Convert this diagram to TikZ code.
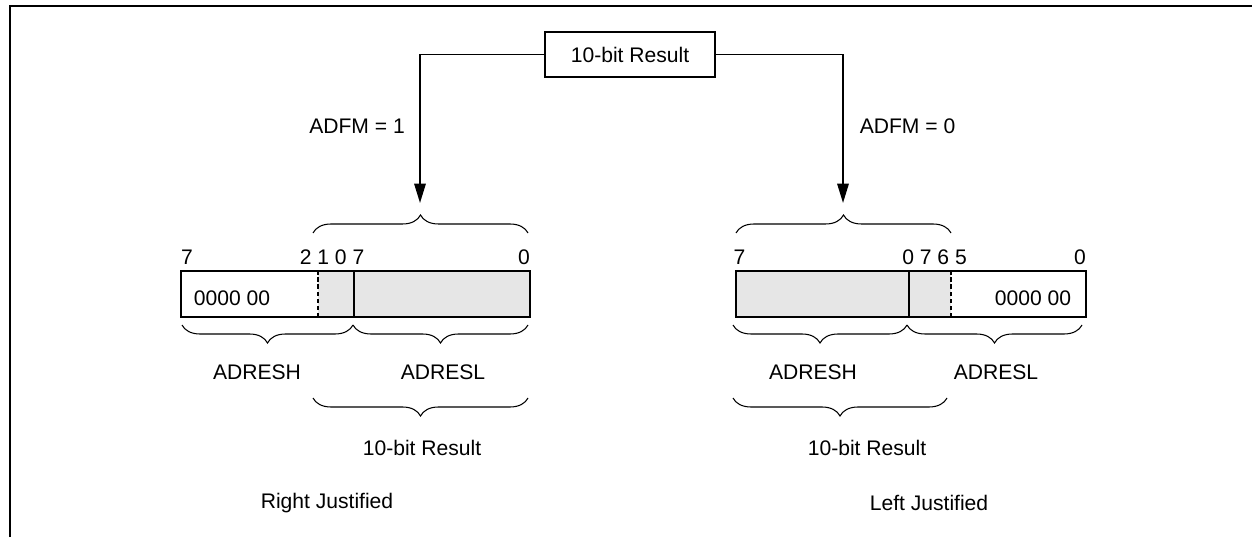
\documentclass[tikz,border=0pt]{standalone}
\usepackage{fontspec}
\setmainfont{Liberation Sans}
\usetikzlibrary{arrows.meta,decorations.pathreplacing}
\definecolor{regfill}{HTML}{E6E6E6}
\tikzset{
  every node/.style={font=\fontsize{12}{14}\selectfont, inner sep=0pt},
  resbox/.style={draw, line width=1pt, minimum width=3.4cm, minimum height=0.9cm},
  wire/.style={line width=1pt},
  regline/.style={line width=1pt},
  brc/.style={decorate, decoration={brace, amplitude=0.36cm}, line width=0.6pt},
  brcdown/.style={decorate, decoration={brace, amplitude=0.36cm, mirror}, line width=0.6pt},
  >={Triangle[length=11pt,width=6.5pt]}
}
\begin{document}
\begin{tikzpicture}
  \useasboundingbox (0,0) rectangle (25.04,10.74);
  % frame
  \draw [line width=1.4pt] (0.2,0) -- (0.2,10.62) -- (25.04,10.62);

  \node (res) [resbox] at (12.6,9.65) {10-bit Result};
  \coordinate (ltip) at (8.4,6.68);
  \coordinate (rtip) at (16.86,6.68);
  \draw [wire,->] (res.west) -| (ltip);
  \draw [wire,->] (res.east) -| (rtip);
  \node (adfm1) at (7.14,8.22) {ADFM = 1};
  \node (adfm0) at (18.15,8.22) {ADFM = 0};

  % right justified
  \fill [regfill] (6.36,4.4) rectangle (10.6,5.32);
  \draw [regline] (3.62,4.4) rectangle (10.6,5.32);
  \draw [regline,dash pattern=on 2.5pt off 1.5pt] (6.36,4.4) -- (6.36,5.32);
  \draw [regline] (7.08,4.4) -- (7.08,5.32);
  \node (lb7) at (3.74,5.6) {7};
  \node (lbmid) at (6.64,5.6) {2 1 0 7};
  \node (lb0) at (10.48,5.6) {0};
  \node (lzero) at (4.64,4.78) {0000 00};
  \draw [brc] (6.26,6.08) -- (10.56,6.08);
  \draw [brcdown] (3.64,4.24) -- (7.06,4.24);
  \draw [brcdown] (7.06,4.24) -- (10.56,4.24);
  \node (lhigh) at (5.14,3.3) {ADRESH};
  \node (llow) at (8.86,3.3) {ADRESL};
  \draw [brcdown] (6.26,2.78) -- (10.56,2.78);
  \node (lres) at (8.44,1.78) {10-bit Result};
  \node (rjust) at (6.54,0.68) {Right Justified};

  % left justified
  \fill [regfill] (14.72,4.4) rectangle (19.02,5.32);
  \draw [regline] (14.72,4.4) rectangle (21.72,5.32);
  \draw [regline,dash pattern=on 2.5pt off 1.5pt] (19.02,4.4) -- (19.02,5.32);
  \draw [regline] (18.18,4.4) -- (18.18,5.32);
  \node (rb7) at (14.79,5.6) {7};
  \node (rbmid) at (18.69,5.6) {0 7 6 5};
  \node (rb0) at (21.6,5.6) {0};
  \node (rzero) at (20.66,4.78) {0000 00};
  \draw [brc] (14.72,6.08) -- (19.02,6.08);
  \draw [brcdown] (14.66,4.24) -- (18.14,4.24);
  \draw [brcdown] (18.14,4.24) -- (21.64,4.24);
  \node (rhigh) at (16.26,3.3) {ADRESH};
  \node (rlow) at (19.92,3.3) {ADRESL};
  \draw [brcdown] (14.66,2.78) -- (18.94,2.78);
  \node (rres) at (17.34,1.78) {10-bit Result};
  \node (ljust) at (18.58,0.68) {Left Justified};
\end{tikzpicture}
\end{document}
